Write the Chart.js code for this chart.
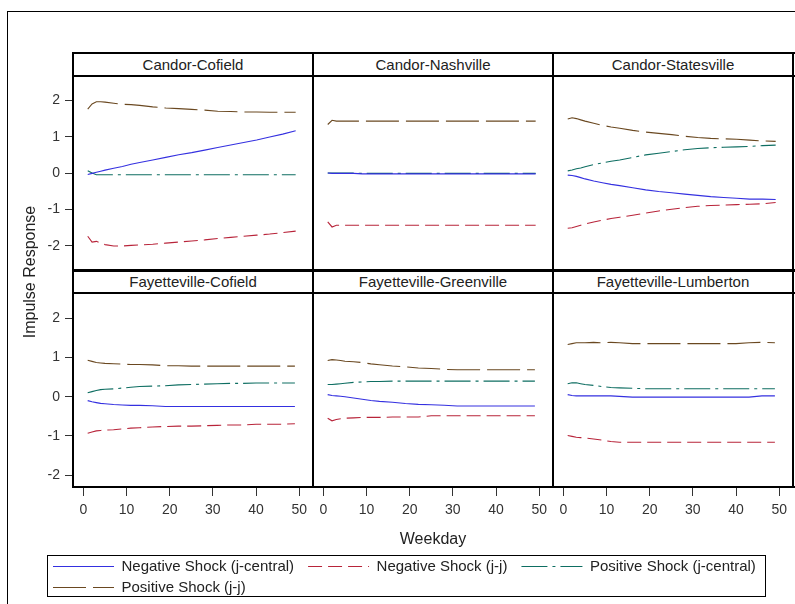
<!DOCTYPE html>
<html><head><meta charset="utf-8">
<script src="https://cdn.jsdelivr.net/npm/chart.js@4.4.1/dist/chart.umd.min.js"></script>
<style>
html,body{margin:0;padding:0;background:#fff;}
body{width:795px;height:604px;position:relative;overflow:hidden;font-family:"Liberation Sans",Arial,sans-serif;}
.abs{position:absolute;}
.ln{position:absolute;background:#000;z-index:5;}
.hdr{position:absolute;height:23px;line-height:23px;text-align:center;font-size:15px;color:#222;z-index:4;}
</style></head><body>
<script>
// ---------- DATA ----------
const weekdays = [1,2,3,4,5,7,9,11,13,16,19,22,25,28,31,34,37,40,43,46,49];
const seriesNames = ["Negative Shock (j-central)","Negative Shock (j-j)","Positive Shock (j-central)","Positive Shock (j-j)"];
const panelTitles = ["Candor-Cofield","Candor-Nashville","Candor-Statesville","Fayetteville-Cofield","Fayetteville-Greenville","Fayetteville-Lumberton"];
const xTicks = [0,10,20,30,40,50];
const yTicks = [-2,-1,0,1,2];

const negCentral_CC = [-0.04,-0.01,0.02,0.05,0.08,0.13,0.18,0.24,0.29,0.36,0.43,0.50,0.56,0.63,0.70,0.77,0.84,0.91,0.99,1.07,1.16];
const negJJ_CC      = [-1.74,-1.90,-1.88,-1.93,-1.97,-2.01,-2.01,-1.99,-1.98,-1.96,-1.93,-1.90,-1.87,-1.84,-1.80,-1.77,-1.74,-1.71,-1.68,-1.64,-1.60];
const posCentral_CC = [0.06,0.00,-0.05,-0.05,-0.05,-0.05,-0.05,-0.05,-0.05,-0.05,-0.05,-0.05,-0.05,-0.05,-0.05,-0.05,-0.05,-0.05,-0.05,-0.05,-0.05];
const posJJ_CC      = [1.76,1.90,1.96,1.96,1.95,1.92,1.89,1.88,1.86,1.82,1.79,1.77,1.75,1.73,1.70,1.69,1.68,1.68,1.67,1.67,1.67];

const negCentral_CN = [0.00,-0.01,-0.01,-0.01,-0.01,-0.01,-0.02,-0.02,-0.02,-0.02,-0.02,-0.02,-0.02,-0.02,-0.02,-0.02,-0.02,-0.02,-0.02,-0.02,-0.02];
const negJJ_CN      = [-1.16,-1.28,-1.24,-1.24,-1.24,-1.24,-1.24,-1.24,-1.24,-1.24,-1.24,-1.24,-1.24,-1.24,-1.24,-1.24,-1.24,-1.24,-1.24,-1.24,-1.24];
const posCentral_CN = [0.00,0.00,0.00,0.00,0.00,0.00,-0.01,-0.01,-0.01,-0.01,-0.01,-0.01,-0.01,-0.01,-0.01,-0.01,-0.01,-0.01,-0.01,-0.01,-0.01];
const posJJ_CN      = [1.15,1.25,1.23,1.23,1.23,1.23,1.23,1.23,1.23,1.23,1.23,1.23,1.23,1.23,1.23,1.23,1.23,1.23,1.23,1.23,1.23];

const negCentral_CS = [-0.05,-0.06,-0.08,-0.11,-0.14,-0.19,-0.23,-0.27,-0.30,-0.35,-0.40,-0.44,-0.47,-0.50,-0.53,-0.56,-0.58,-0.60,-0.62,-0.62,-0.63];
const negJJ_CS      = [-1.31,-1.30,-1.27,-1.24,-1.21,-1.16,-1.12,-1.08,-1.05,-1.00,-0.95,-0.90,-0.86,-0.82,-0.79,-0.77,-0.76,-0.75,-0.74,-0.73,-0.70];
const posCentral_CS = [0.05,0.07,0.10,0.12,0.15,0.20,0.24,0.28,0.31,0.37,0.43,0.47,0.51,0.55,0.58,0.60,0.61,0.62,0.63,0.65,0.66];
const posJJ_CS      = [1.28,1.31,1.29,1.26,1.23,1.18,1.13,1.09,1.06,1.01,0.97,0.94,0.91,0.87,0.84,0.82,0.81,0.80,0.78,0.76,0.75];

const negCentral_FC = [-0.10,-0.13,-0.15,-0.17,-0.18,-0.20,-0.21,-0.22,-0.22,-0.23,-0.25,-0.25,-0.25,-0.25,-0.25,-0.25,-0.25,-0.25,-0.25,-0.25,-0.25];
const negJJ_FC      = [-0.93,-0.90,-0.87,-0.86,-0.85,-0.84,-0.82,-0.80,-0.79,-0.77,-0.76,-0.75,-0.75,-0.74,-0.73,-0.72,-0.72,-0.70,-0.70,-0.70,-0.69];
const posCentral_FC = [0.10,0.13,0.16,0.18,0.19,0.20,0.22,0.24,0.26,0.27,0.28,0.30,0.31,0.32,0.33,0.34,0.34,0.35,0.35,0.35,0.35];
const posJJ_FC      = [0.93,0.90,0.87,0.86,0.85,0.84,0.83,0.82,0.82,0.81,0.79,0.79,0.78,0.78,0.78,0.78,0.78,0.78,0.78,0.78,0.78];

const negCentral_FG = [-0.11,-0.13,-0.14,-0.15,-0.16,-0.19,-0.22,-0.25,-0.27,-0.29,-0.32,-0.34,-0.35,-0.36,-0.38,-0.38,-0.38,-0.38,-0.38,-0.38,-0.38];
const negJJ_FG      = [-0.67,-0.73,-0.70,-0.68,-0.67,-0.66,-0.65,-0.65,-0.65,-0.64,-0.64,-0.64,-0.61,-0.61,-0.61,-0.61,-0.61,-0.61,-0.61,-0.61,-0.61];
const posCentral_FG = [0.13,0.13,0.14,0.15,0.16,0.18,0.19,0.20,0.20,0.21,0.21,0.21,0.21,0.21,0.21,0.21,0.21,0.21,0.21,0.21,0.21];
const posJJ_FG      = [0.70,0.72,0.71,0.70,0.68,0.67,0.65,0.62,0.60,0.57,0.55,0.52,0.51,0.49,0.48,0.48,0.48,0.48,0.48,0.48,0.48];

const negCentral_FL = [-0.11,-0.13,-0.14,-0.14,-0.14,-0.14,-0.14,-0.14,-0.15,-0.17,-0.17,-0.17,-0.17,-0.17,-0.17,-0.17,-0.17,-0.17,-0.17,-0.14,-0.14];
const negJJ_FL      = [-1.08,-1.10,-1.12,-1.13,-1.14,-1.16,-1.19,-1.22,-1.24,-1.24,-1.24,-1.24,-1.24,-1.24,-1.24,-1.24,-1.24,-1.24,-1.24,-1.24,-1.24];
const posCentral_FL = [0.15,0.17,0.17,0.15,0.13,0.11,0.08,0.06,0.05,0.04,0.03,0.03,0.03,0.03,0.03,0.03,0.03,0.03,0.03,0.03,0.03];
const posJJ_FL      = [1.08,1.10,1.12,1.12,1.12,1.13,1.12,1.13,1.12,1.10,1.10,1.10,1.10,1.10,1.10,1.10,1.10,1.10,1.12,1.13,1.12];

const panelData = [
  [negCentral_CC, negJJ_CC, posCentral_CC, posJJ_CC],
  [negCentral_CN, negJJ_CN, posCentral_CN, posJJ_CN],
  [negCentral_CS, negJJ_CS, posCentral_CS, posJJ_CS],
  [negCentral_FC, negJJ_FC, posCentral_FC, posJJ_FC],
  [negCentral_FG, negJJ_FG, posCentral_FG, posJJ_FG],
  [negCentral_FL, negJJ_FL, posCentral_FL, posJJ_FL]
];

// ---------- STYLE ----------
const FONT = '"Liberation Sans", Arial, sans-serif';
const colors = ['#3430E0','#B8243A','#0E6E62','#6A4820'];
const dashes = [[],[14,6],[26,5,3,5],[33,7]];
Chart.defaults.font.family = FONT;

const colX = [73,313,553];
const rowY = [76,293];
const PW = 240, PH = 194;
const YAXW = 50, XAXH = 45;

function addDiv(cls, css, text){
  const d = document.createElement('div');
  d.className = cls;
  Object.assign(d.style, css);
  if (text !== undefined) d.textContent = text;
  document.body.appendChild(d);
  return d;
}

// outer frame
addDiv('abs', {left:'7px', top:'11px', width:'800px', height:'600px', border:'1px solid #000'});

panelData.forEach((series, i) => {
  const r = Math.floor(i/3), c = i%3;
  const showY = c === 0, showX = r === 1;
  const left = colX[c] - (showY ? YAXW : 0);
  const top = rowY[r];
  const w = PW + (showY ? YAXW : 0);
  const h = PH + (showX ? XAXH : 0);
  const holder = addDiv('abs', {left:left+'px', top:top+'px', width:w+'px', height:h+'px'});
  const cv = document.createElement('canvas');
  cv.width = w; cv.height = h;
  cv.style.width = w+'px'; cv.style.height = h+'px';
  holder.appendChild(cv);

  new Chart(cv, {
    type: 'line',
    data: {
      datasets: series.map((vals, k) => ({
        label: seriesNames[k],
        data: weekdays.map((d, j) => ({x: d, y: vals[j]})),
        borderColor: colors[k],
        borderWidth: 1.1,
        borderDash: dashes[k],
        pointRadius: 0,
        tension: 0,
        fill: false
      }))
    },
    options: {
      responsive: false,
      animation: false,
      events: [],
      devicePixelRatio: 1,
      layout: {padding: 0},
      plugins: {legend: {display: false}, tooltip: {enabled: false}},
      scales: {
        x: {
          type: 'linear', min: -2.4, max: 53, display: showX,
          afterBuildTicks: (s) => { s.ticks = xTicks.map(v => ({value: v})); },
          ticks: {color: '#333', padding: 6, maxRotation: 0, font: {size: 14}},
          grid: {drawOnChartArea: false, drawTicks: true, tickLength: 9, color: '#333', lineWidth: 1},
          border: {display: false},
          afterFit: (s) => { s.height = showX ? XAXH : 0; }
        },
        y: {
          type: 'linear', min: -2.3, max: 2.3, display: showY,
          afterBuildTicks: (s) => { s.ticks = yTicks.map(v => ({value: v})); },
          ticks: {color: '#333', padding: 5, font: {size: 14}},
          grid: {drawOnChartArea: false, drawTicks: true, tickLength: 8, color: '#333', lineWidth: 1},
          border: {display: false},
          afterFit: (s) => { s.width = showY ? YAXW : 0; }
        }
      }
    }
  });

  // header
  addDiv('hdr', {left:colX[c]+'px', top:(top-23)+'px', width:PW+'px'}, panelTitles[i]);
});

// frame lines
[73,313,553,793].forEach(x => addDiv('ln', {left:(x-1)+'px', top:'52px', width:'2px', height:'436px'}));
[[53,2],[76,2],[270,3],[293,2],[487,2]].forEach(([y,t]) => addDiv('ln', {left:'72px', top:(y-1)+'px', width:'723px', height:t+'px'}));

// axis titles
addDiv('abs', {left:'-70px', top:'262px', width:'200px', height:'20px', lineHeight:'20px', textAlign:'center',
  fontSize:'16px', color:'#222', transform:'rotate(-90deg)'}, 'Impulse Response');
addDiv('abs', {left:'333px', top:'529px', width:'200px', height:'20px', lineHeight:'20px', textAlign:'center',
  fontSize:'16px', color:'#222'}, 'Weekday');

// legend frame
addDiv('abs', {left:'47px', top:'555px', width:'717px', height:'40px', border:'1px solid #000'});

function legendChart(items, left, top, w, h){
  const holder = addDiv('abs', {left:left+'px', top:top+'px', width:w+'px', height:h+'px', zIndex:6});
  const cv = document.createElement('canvas');
  cv.width = w; cv.height = h; cv.style.width = w+'px'; cv.style.height = h+'px';
  holder.appendChild(cv);
  new Chart(cv, {
    type: 'line',
    data: {datasets: items.map(k => ({label: seriesNames[k], data: [], borderColor: colors[k], backgroundColor: colors[k], borderWidth: 1, borderDash: dashes[k]}))},
    options: {
      responsive: false, animation: false, events: [], devicePixelRatio: 1,
      scales: {x: {display: false}, y: {display: false}},
      plugins: {
        tooltip: {enabled: false},
        legend: {
          display: true, position: 'top', align: 'start',
          labels: {
            usePointStyle: true, pointStyle: 'line', pointStyleWidth: 61, padding: 14,
            color: '#222', font: {size: 15},
            generateLabels: (chart) => Chart.defaults.plugins.legend.labels.generateLabels(chart).map(l => {
              const ds = chart.data.datasets[l.datasetIndex];
              return Object.assign(l, {lineDash: ds.borderDash, strokeStyle: ds.borderColor, lineWidth: 1, pointStyle: 'line'});
            })
          }
        }
      }
    }
  });
}
legendChart([0,1,2], 39, 545, 760, 60);
legendChart([3], 39, 566, 320, 60);
</script>
</body></html>
